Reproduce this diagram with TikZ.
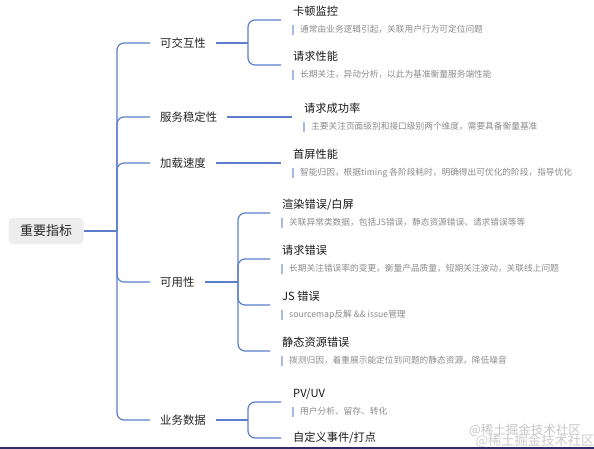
\documentclass[tikz,border=0pt]{standalone}
\usepackage{fontspec}
\setmainfont{Noto Sans CJK SC}
\usepackage{xcolor}
\usepackage{tikz}
\usetikzlibrary{calc,positioning}

\definecolor{linkblue}{HTML}{5B7FCC}
\definecolor{barblue}{HTML}{A9B9E6}
\definecolor{notegray}{HTML}{8C8C8C}
\definecolor{rootgray}{HTML}{EDEDED}
\definecolor{edgenavy}{HTML}{2E2D68}

\begin{document}
\begin{tikzpicture}[x=1pt, y=-1pt,
    link/.style={draw=linkblue, line width=1.2pt},
    rnd/.style={rounded corners=7pt},
    root/.style={fill=rootgray, rounded corners=4pt, minimum width=75pt, minimum height=26pt, font=\fontsize{13}{15}\selectfont, text=black!85},
    branch/.style={anchor=west, inner xsep=10pt, font=\fontsize{11.4}{13}\selectfont, text=black!85},
    topic/.style={anchor=south west, inner xsep=12pt, inner ysep=2pt, text depth=2pt, font=\fontsize{11.2}{13}\selectfont, text=black!90},
    note/.style={anchor=west, inner xsep=7pt, inner ysep=1pt, text height=7pt, text depth=1.5pt, font=\fontsize{8.7}{10}\selectfont, text=notegray},
    notebar/.style={draw=barblue, line width=1.2pt}]
    \fill[white] (0,0) rectangle (594,449);
    \useasboundingbox (0,0) rectangle (594,449);

    % Root
    \node[root] (root) at (46,231) {重要指标};
    \coordinate (j0) at (117,231);
    \draw[link] (root.east) -- (j0);

    % Main branches
    \node[branch] (inter) at (150,43) {可交互性};
    \node[branch] (stab) at (150,117) {服务稳定性};
    \node[branch] (load) at (150,163) {加载速度};
    \node[branch] (avail) at (150,282) {可用性};
    \node[branch] (biz) at (150,420) {业务数据};
    \foreach \b in {inter,stab,load,avail,biz}
        \draw[link,rnd] (j0) |- (\b.west);

    % Interactivity
    \coordinate (inter0) at (248,43);
    \draw[link] (inter.east) -- (inter0);
    \node[topic] (lag) at (281,20) {卡顿监控};
    \node[note] (lagn) at ($(lag.south west)+(12,10)$) {通常由业务逻辑引起，关联用户行为可定位问题};
    \node[topic] (reqperf) at (281,65) {请求性能};
    \node[note] (reqperfn) at ($(reqperf.south west)+(12,10)$) {长期关注，异动分析，以此为基准衡量服务端性能};
    \draw[link,rnd] (inter0) |- (lag.south west);
    \draw[link,rnd] (inter0) |- (reqperf.south west);

    % Stability
    \node[topic] (succ) at (292,117) {请求成功率};
    \node[note] (succn) at ($(succ.south west)+(12,10)$) {主要关注页面级别和接口级别两个维度，需要具备衡量基准};
    \draw[link] (stab.east) -- (succ.south west);

    % Loading speed
    \node[topic] (fsp) at (281,163) {首屏性能};
    \node[note] (fspn) at ($(fsp.south west)+(12,10)$) {智能归因，根据timing 各阶段耗时，明确得出可优化的阶段，指导优化};
    \draw[link] (load.east) -- (fsp.south west);

    % Availability
    \coordinate (avail0) at (238,282);
    \draw[link] (avail.east) -- (avail0);
    \node[topic] (render) at (270,213) {渲染错误/白屏};
    \node[note] (rendern) at ($(render.south west)+(12,10)$) {关联异常类数据，包括JS错误，静态资源错误、请求错误等等};
    \node[topic] (reqerr) at (270,259) {请求错误};
    \node[note] (reqerrn) at ($(reqerr.south west)+(12,10)$) {长期关注错误率的变更，衡量产品质量，短期关注波动，关联线上问题};
    \node[topic] (jserr) at (270,305) {JS 错误};
    \node[note] (jserrn) at ($(jserr.south west)+(12,10)$) {sourcemap反解 \&\& issue管理};
    \node[topic] (static) at (270,351) {静态资源错误};
    \node[note] (staticn) at ($(static.south west)+(12,10)$) {拨测归因，着重展示能定位到问题的静态资源，降低噪音};
    \foreach \t in {render,reqerr,jserr,static}
        \draw[link,rnd] (avail0) |- (\t.south west);

    % Business data
    \coordinate (biz0) at (248,420);
    \draw[link] (biz.east) -- (biz0);
    \node[topic] (pvuv) at (281,402) {PV/UV};
    \node[note] (pvuvn) at ($(pvuv.south west)+(12,10)$) {用户分析、留存、转化};
    \node[topic, anchor=west] (custom) at (281,438) {自定义事件/打点};
    \draw[link,rnd] (biz0) |- (pvuv.south west);
    \draw[link,rnd] (biz0) |- (custom.west);

    % Note bars
    \foreach \n in {lagn,reqperfn,succn,fspn,rendern,reqerrn,jserrn,staticn,pvuvn}
        \draw[notebar] (\n.north west) -- (\n.south west);

    % Watermark and bottom edge
    \node[text=gray!45, font=\fontsize{12.5}{14}\selectfont] (wm1) at (525,430) {@稀土掘金技术社区};
    \node[text=gray!40, font=\fontsize{13.3}{15}\selectfont] (wm2) at (535,441) {@稀土掘金技术社区};
    \draw[edgenavy, line width=2pt] (0,448) -- (594,448);
\end{tikzpicture}
\end{document}
